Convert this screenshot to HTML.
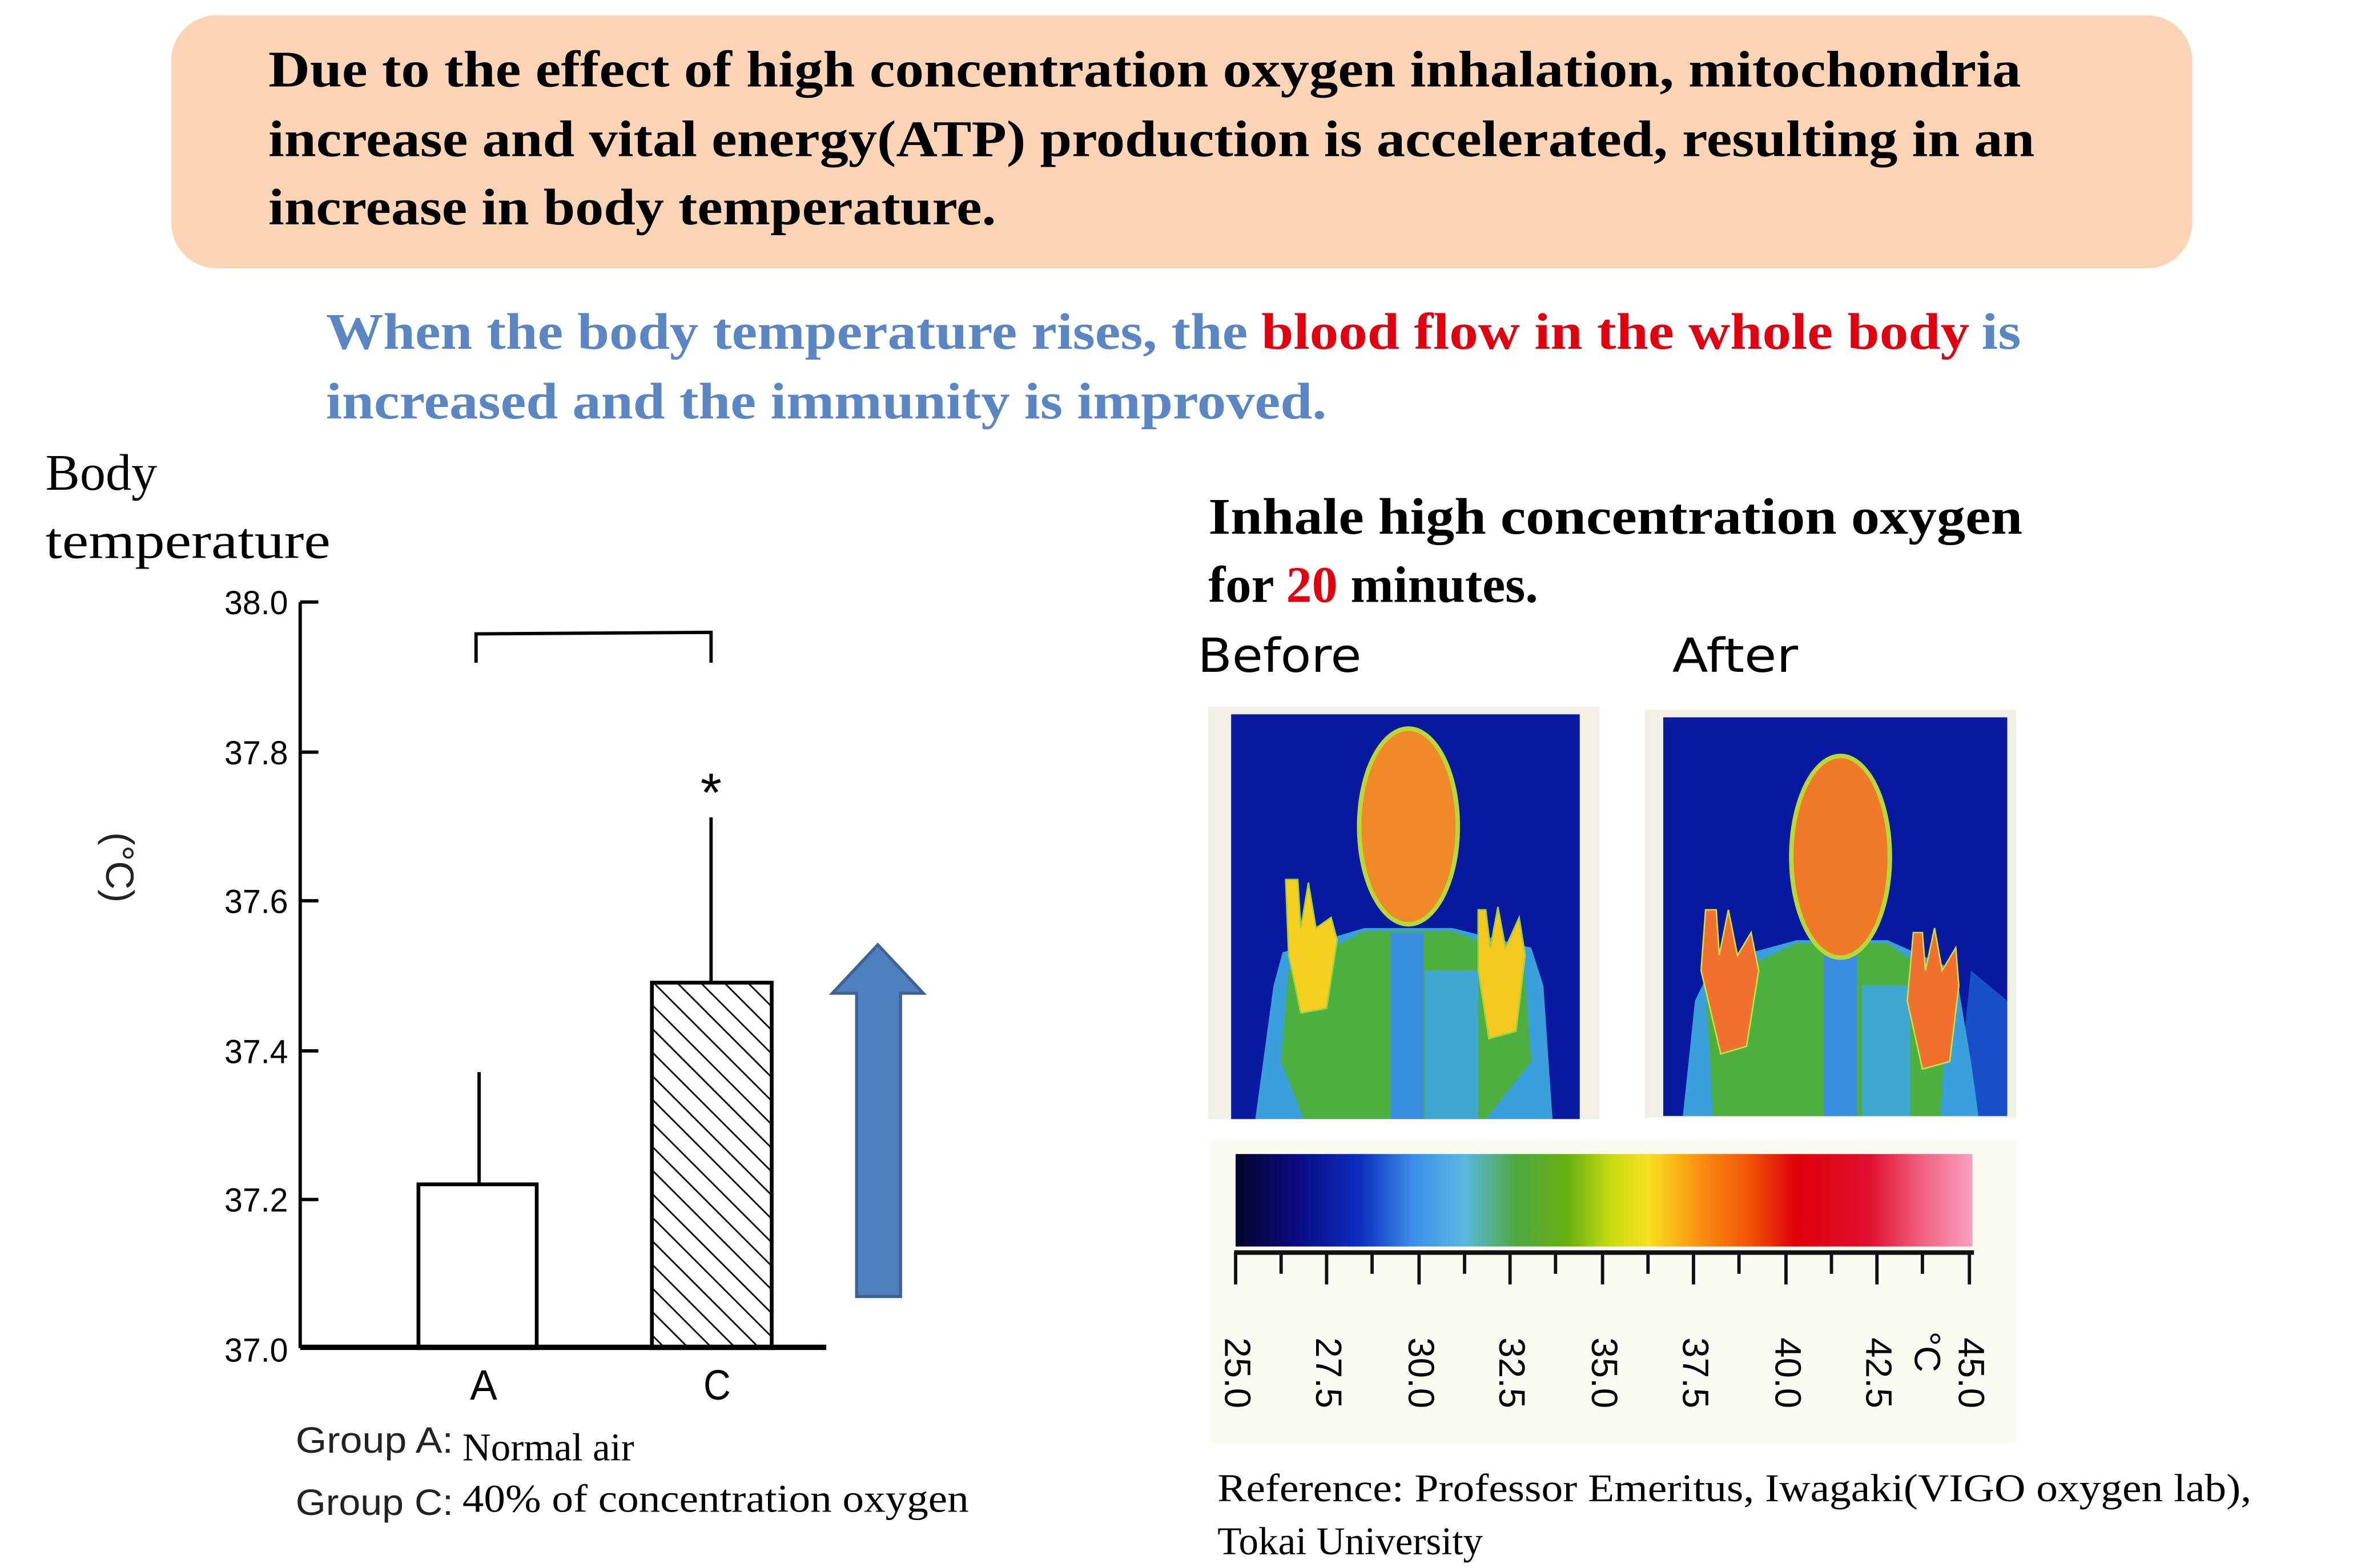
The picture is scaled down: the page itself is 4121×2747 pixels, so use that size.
<!DOCTYPE html>
<html><head><meta charset="utf-8"><style>
html,body{margin:0;padding:0;background:#fff;}
svg{display:block;}
</style></head><body>
<svg width="4121" height="2747" viewBox="0 0 1552 1034" preserveAspectRatio="none" xmlns="http://www.w3.org/2000/svg">
<defs>
<pattern id="hatch" patternUnits="userSpaceOnUse" width="11" height="11" patternTransform="rotate(-45)">
<rect width="11" height="11" fill="#fff"/><line x1="0" y1="0" x2="0" y2="11" stroke="#111" stroke-width="2.2"/>
</pattern>
<linearGradient id="cb" x1="0" x2="1" y1="0" y2="0">
<stop offset="0" stop-color="#05052a"/>
<stop offset="0.08" stop-color="#0a0a80"/>
<stop offset="0.17" stop-color="#0b2ec0"/>
<stop offset="0.24" stop-color="#3a8ee8"/>
<stop offset="0.31" stop-color="#5ab8e0"/>
<stop offset="0.38" stop-color="#50a840"/>
<stop offset="0.45" stop-color="#66b010"/>
<stop offset="0.51" stop-color="#c8dc10"/>
<stop offset="0.56" stop-color="#f8e020"/>
<stop offset="0.63" stop-color="#f89010"/>
<stop offset="0.70" stop-color="#f05008"/>
<stop offset="0.76" stop-color="#e00008"/>
<stop offset="0.86" stop-color="#e01030"/>
<stop offset="0.93" stop-color="#f06080"/>
<stop offset="1" stop-color="#f8a0c0"/>
</linearGradient>
<clipPath id="c1"><rect x="812" y="471" width="230" height="267"/></clipPath>
<clipPath id="c2"><rect x="1097" y="473" width="227" height="263"/></clipPath>
</defs>

<rect x="113" y="10" width="1333" height="167" rx="30" fill="#fbd4b5"/>
<g font-family="Liberation Serif, serif" font-weight="bold" font-size="34" fill="#000">
<text x="177" y="57" textLength="1156" lengthAdjust="spacingAndGlyphs">Due to the effect of high concentration oxygen inhalation, mitochondria</text>
<text x="177" y="103" textLength="1165" lengthAdjust="spacingAndGlyphs">increase and vital energy(ATP) production is accelerated, resulting in an</text>
<text x="177" y="148" textLength="480" lengthAdjust="spacingAndGlyphs">increase in body temperature.</text>
</g>
<g font-family="Liberation Serif, serif" font-weight="bold" font-size="34" fill="#5a86c4">
<text x="215" y="230" textLength="608" lengthAdjust="spacingAndGlyphs">When the body temperature rises, the</text>
<text x="832" y="230" fill="#e00010" textLength="467" lengthAdjust="spacingAndGlyphs">blood flow in the whole body</text>
<text x="1307" y="230" textLength="26" lengthAdjust="spacingAndGlyphs">is</text>
<text x="215" y="276" textLength="660" lengthAdjust="spacingAndGlyphs">increased and the immunity is improved.</text>
</g>

<g font-family="Liberation Serif, serif" font-size="34" fill="#000">
<text x="30" y="323">Body</text>
<text x="30" y="368" textLength="188" lengthAdjust="spacingAndGlyphs">temperature</text>
</g>
<g font-family="Liberation Sans, sans-serif" font-size="22" fill="#000" text-anchor="end">
<text x="190" y="405" textLength="42" lengthAdjust="spacingAndGlyphs">38.0</text>
<text x="190" y="504" textLength="42" lengthAdjust="spacingAndGlyphs">37.8</text>
<text x="190" y="602" textLength="42" lengthAdjust="spacingAndGlyphs">37.6</text>
<text x="190" y="701" textLength="42" lengthAdjust="spacingAndGlyphs">37.4</text>
<text x="190" y="799" textLength="42" lengthAdjust="spacingAndGlyphs">37.2</text>
<text x="190" y="898" textLength="42" lengthAdjust="spacingAndGlyphs">37.0</text>
</g>
<g stroke="#000" stroke-width="2.2" fill="none">
<line x1="198" y1="397" x2="198" y2="889"/>
<line x1="198" y1="397" x2="210" y2="397"/>
<line x1="198" y1="496" x2="210" y2="496"/>
<line x1="198" y1="594" x2="210" y2="594"/>
<line x1="198" y1="693" x2="210" y2="693"/>
<line x1="198" y1="791" x2="210" y2="791"/>
<polyline points="314,437 314,418 469,417 469,437"/>
<line x1="316" y1="707" x2="316" y2="781"/>
<line x1="469" y1="539" x2="469" y2="648"/>
</g>
<rect x="276" y="781" width="78" height="108" fill="#fff" stroke="#000" stroke-width="2.5"/>
<rect x="430" y="648" width="79" height="241" fill="url(#hatch)" stroke="#000" stroke-width="2.5"/>
<line x1="198" y1="888.5" x2="545" y2="888.5" stroke="#000" stroke-width="3.5"/>
<text x="469" y="535" font-family="Liberation Sans, sans-serif" font-size="36" text-anchor="middle">*</text>
<text x="70" y="572" font-family="Liberation Sans, sans-serif" font-size="26" text-anchor="middle" transform="rotate(90 70 572)" fill="#222">(°C)</text>
<g font-family="Liberation Sans, sans-serif" font-size="28" text-anchor="middle">
<text x="319" y="923" textLength="18" lengthAdjust="spacingAndGlyphs">A</text>
<text x="473" y="923" textLength="18" lengthAdjust="spacingAndGlyphs">C</text>
</g>
<path d="M565 855 L565 655 L549 655 L579 623 L609 655 L594 655 L594 855 Z" fill="#4f80bd" stroke="#3c6396" stroke-width="2"/>
<g font-family="Liberation Sans, sans-serif" font-size="24" fill="#222">
<text x="195" y="958" textLength="104" lengthAdjust="spacingAndGlyphs">Group A:</text>
<text x="195" y="999" textLength="104" lengthAdjust="spacingAndGlyphs">Group C:</text>
</g>
<g font-family="Liberation Serif, serif" font-size="26" fill="#000">
<text x="305" y="963">Normal air</text>
<text x="305" y="997" textLength="334" lengthAdjust="spacingAndGlyphs">40% of concentration oxygen</text>
<text x="803" y="990" textLength="682" lengthAdjust="spacingAndGlyphs">Reference: Professor Emeritus, Iwagaki(VIGO oxygen lab),</text>
<text x="803" y="1025">Tokai University</text>
</g>

<g font-family="Liberation Serif, serif" font-weight="bold" font-size="34" fill="#000">
<text x="797" y="352" textLength="537" lengthAdjust="spacingAndGlyphs">Inhale high concentration oxygen</text>
<text x="797" y="397">for <tspan fill="#e00010">20</tspan> minutes.</text>
</g>
<g font-family="DejaVu Sans, sans-serif" font-size="31" fill="#000">
<text x="790" y="443" textLength="108" lengthAdjust="spacingAndGlyphs">Before</text>
<text x="1103" y="443" textLength="83" lengthAdjust="spacingAndGlyphs">After</text>
</g>

<rect x="797" y="466" width="258" height="272" fill="#f2f0e4"/>
<g clip-path="url(#c1)">
<rect x="812" y="471" width="230" height="267" fill="#0a1aa0"/>
<path d="M840 650 L846 628 L900 612 L958 612 L1010 625 L1018 650 L1024 738 L828 738 Z" fill="#3aa0dc"/>
<path d="M850 640 L900 614 L958 614 L1005 632 L1010 700 L980 738 L860 738 L845 700 Z" fill="#4cb040"/>
<rect x="917" y="615" width="22" height="123" fill="#3a8ee0"/>
<rect x="940" y="640" width="35" height="98" fill="#40a8d0"/>
<ellipse cx="929" cy="545" rx="34" ry="66" fill="#b8d838"/>
<ellipse cx="929" cy="545" rx="31" ry="63" fill="#f08a28"/>
<path d="M848 580 L856 580 L858 612 L863 582 L868 612 L878 605 L882 620 L875 665 L858 668 L850 630 Z" fill="#f5d020" stroke="#a0d040" stroke-width="1"/>
<path d="M975 600 L980 600 L983 625 L988 598 L993 625 L1002 605 L1006 630 L1000 680 L982 685 L975 640 Z" fill="#f5c820" stroke="#a0d040" stroke-width="1"/>
</g>

<rect x="1085" y="468" width="245" height="269" fill="#f2f0e4"/>
<g clip-path="url(#c2)">
<rect x="1097" y="473" width="227" height="263" fill="#0a1aa0"/>
<path d="M1300 640 L1324 660 L1324 736 L1290 736 Z" fill="#1850c8"/>
<path d="M1118 660 L1130 635 L1185 620 L1245 620 L1290 640 L1300 700 L1305 736 L1110 736 Z" fill="#3aa0dc"/>
<path d="M1125 650 L1185 622 L1245 622 L1285 650 L1280 736 L1130 736 Z" fill="#4cb040"/>
<rect x="1203" y="625" width="22" height="111" fill="#3a8ee0"/>
<rect x="1228" y="650" width="32" height="86" fill="#40a8d0"/>
<ellipse cx="1214" cy="565" rx="34" ry="68" fill="#b8d838"/>
<ellipse cx="1214" cy="565" rx="31" ry="65" fill="#f07a28"/>
<path d="M1125 600 L1132 600 L1134 630 L1140 600 L1146 630 L1155 615 L1160 640 L1152 690 L1135 695 L1122 640 Z" fill="#f07030" stroke="#c8e040" stroke-width="1"/>
<path d="M1262 615 L1268 615 L1270 640 L1276 612 L1281 640 L1290 625 L1292 650 L1286 700 L1268 705 L1258 660 Z" fill="#f07030" stroke="#c8e040" stroke-width="1"/>
</g>

<rect x="797" y="752" width="533" height="200" fill="#fbfaf3"/>
<rect x="815" y="761" width="486" height="61" fill="url(#cb)"/>
<g stroke="#111" stroke-width="2.2">
<line x1="814" y1="826" x2="1302" y2="826" stroke-width="3"/>
<line x1="815" y1="826" x2="815" y2="847"/>
<line x1="845" y1="826" x2="845" y2="840"/>
<line x1="875" y1="826" x2="875" y2="847"/>
<line x1="905" y1="826" x2="905" y2="840"/>
<line x1="936" y1="826" x2="936" y2="847"/>
<line x1="966" y1="826" x2="966" y2="840"/>
<line x1="996" y1="826" x2="996" y2="847"/>
<line x1="1026" y1="826" x2="1026" y2="840"/>
<line x1="1057" y1="826" x2="1057" y2="847"/>
<line x1="1087" y1="826" x2="1087" y2="840"/>
<line x1="1117" y1="826" x2="1117" y2="847"/>
<line x1="1147" y1="826" x2="1147" y2="840"/>
<line x1="1178" y1="826" x2="1178" y2="847"/>
<line x1="1208" y1="826" x2="1208" y2="840"/>
<line x1="1238" y1="826" x2="1238" y2="847"/>
<line x1="1268" y1="826" x2="1268" y2="840"/>
<line x1="1299" y1="826" x2="1299" y2="847"/>
</g>
<g font-family="Liberation Sans, sans-serif" font-size="24" fill="#000">
<text transform="translate(808 882) rotate(90)">25.0</text>
<text transform="translate(868 882) rotate(90)">27.5</text>
<text transform="translate(929 882) rotate(90)">30.0</text>
<text transform="translate(989 882) rotate(90)">32.5</text>
<text transform="translate(1050 882) rotate(90)">35.0</text>
<text transform="translate(1110 882) rotate(90)">37.5</text>
<text transform="translate(1171 882) rotate(90)">40.0</text>
<text transform="translate(1231 882) rotate(90)">42.5</text>
<text transform="translate(1263 878) rotate(90)">°C</text>
<text transform="translate(1292 882) rotate(90)">45.0</text>
</g>
</svg>
</body></html>
